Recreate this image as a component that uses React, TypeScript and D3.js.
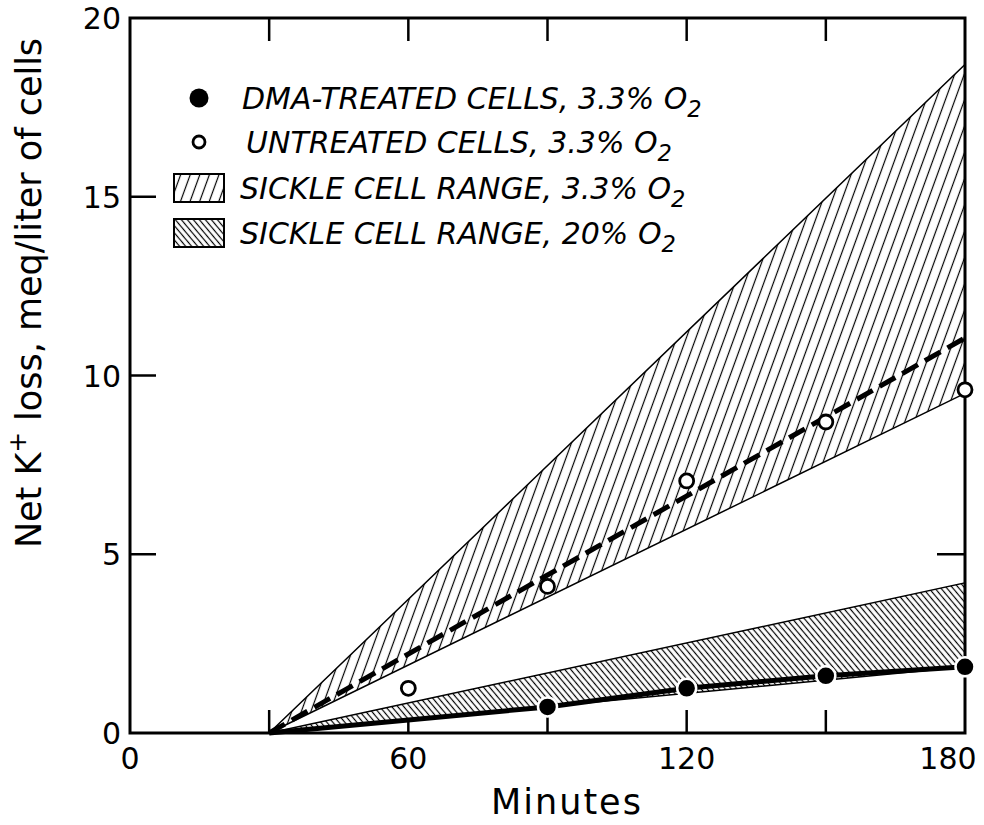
import React from "react"
import * as d3 from "d3"

// untreated cells, 3.3% O2 (open circles)
const untreatedMinutes = [60, 90, 120, 150, 180]
const untreatedLoss = [1.25, 4.1, 7.05, 8.7, 9.6]

// DMA-treated cells, 3.3% O2 (filled circles)
const dmaMinutes = [90, 120, 150, 180]
const dmaLoss = [0.73, 1.25, 1.6, 1.85]

// onset of loss and the dashed line through the untreated cells
const onsetMinute = 30
const untreatedFitMinutes = [30, 180]
const untreatedFitLoss = [0, 11.05]

// sickle cell ranges
const rangeMinutes = [30, 180]
const sickle33Low = [0, 9.5]
const sickle33High = [0, 18.7]
const sickle20Low = [0, 1.85]
const sickle20High = [0, 4.2]

const xTickLabels = [0, 60, 120, 180]
const xMinorTicks = [30, 60, 90, 120, 150]
const yTickLabels = [0, 5, 10, 15, 20]
const yMinorTicks = [5, 10, 15]

const width = 984
const height = 825
const font = "'DejaVu Sans', sans-serif"

const x = d3.scaleLinear().domain([0, 180]).range([130, 965])
const y = d3.scaleLinear().domain([0, 20]).range([733, 18])

const line = d3
  .line<[number, number]>()
  .x(d => x(d[0]))
  .y(d => y(d[1]))

const band = d3
  .area<number>()
  .x(d => x(rangeMinutes[d]))

const O2 = () => (
  <>
    {" O"}
    <tspan fontSize="0.75em" dy="8">2</tspan>
  </>
)

export default function App() {
  const band33 = band.y0(i => y(sickle33Low[i])).y1(i => y(sickle33High[i]))([0, 1])
  const band20 = band.y0(i => y(sickle20Low[i])).y1(i => y(sickle20High[i]))([0, 1])

  const fitPts = untreatedFitMinutes.map((m, i) => [m, untreatedFitLoss[i]] as [number, number])
  const dmaPts = [[onsetMinute, 0] as [number, number]].concat(
    dmaMinutes.map((m, i) => [m, dmaLoss[i]] as [number, number])
  )

  const legendRows = [98, 142, 188, 233]

  return (
    <svg
      width={width}
      height={height}
      style={{ position: "absolute", left: 0, top: 0, background: "white" }}
      fontFamily={font}
    >
      <defs>
        <pattern id="hatch33" width="9" height="9" patternUnits="userSpaceOnUse" patternTransform="rotate(20)">
          <rect width="9" height="9" fill="white" />
          <line x1="4.5" y1="0" x2="4.5" y2="9" stroke="black" strokeWidth="1.2" />
        </pattern>
        <pattern id="hatch20" width="4.6" height="4.6" patternUnits="userSpaceOnUse" patternTransform="rotate(-40)">
          <rect width="4.6" height="4.6" fill="white" />
          <line x1="2.3" y1="0" x2="2.3" y2="4.6" stroke="black" strokeWidth="1.2" />
        </pattern>
      </defs>

      {/* ticks */}
      <g stroke="black" strokeWidth={2.5}>
        {xMinorTicks.map(t => (
          <g key={t}>
            <line x1={x(t)} x2={x(t)} y1={y(20)} y2={y(20) + 23} />
            <line x1={x(t)} x2={x(t)} y1={y(0)} y2={y(0) - 23} />
          </g>
        ))}
        {yMinorTicks.map(t => (
          <g key={t}>
            <line x1={x(0)} x2={x(0) + 26} y1={y(t)} y2={y(t)} />
            <line x1={x(180)} x2={x(180) - 28} y1={y(t)} y2={y(t)} />
          </g>
        ))}
      </g>

      {/* sickle cell ranges */}
      <path d={band33 ?? ""} fill="url(#hatch33)" stroke="black" strokeWidth={1.5} />
      <path d={band20 ?? ""} fill="url(#hatch20)" stroke="black" strokeWidth={1.5} />

      {/* frame */}
      <rect
        x={x(0)}
        y={y(20)}
        width={x(180) - x(0)}
        height={y(0) - y(20)}
        fill="none"
        stroke="black"
        strokeWidth={3}
      />

      {/* lines */}
      <path d={line(fitPts) ?? ""} fill="none" stroke="black" strokeWidth={5} strokeDasharray="18 8" />
      <path d={line(dmaPts) ?? ""} fill="none" stroke="black" strokeWidth={5} />

      {/* points */}
      {untreatedMinutes.map((m, i) => (
        <circle key={m} cx={x(m)} cy={y(untreatedLoss[i])} r={7} fill="white" stroke="black" strokeWidth={2.8} />
      ))}
      {dmaMinutes.map((m, i) => (
        <circle key={m} cx={x(m)} cy={y(dmaLoss[i])} r={9.5} fill="black" stroke="white" strokeWidth={2.5} />
      ))}

      {/* tick labels */}
      <g fontSize={30} fill="black">
        {xTickLabels.map(t => (
          <text key={t} x={x(t) + (t === 180 ? -17 : 0)} y={769} textAnchor="middle">
            {t}
          </text>
        ))}
        {yTickLabels.map(t => (
          <text key={t} x={121} y={y(t) + 11} textAnchor="end">
            {t}
          </text>
        ))}
      </g>

      <text x={567} y={814} fontSize={35} letterSpacing={2} textAnchor="middle">
        Minutes
      </text>
      <text
        transform="translate(41,293) rotate(-90)"
        fontSize={35}
        textAnchor="middle"
      >
        Net K<tspan fontSize="0.7em" dy="-15">+</tspan>
        <tspan dy="15"> loss, meq/liter of cells</tspan>
      </text>

      {/* legend */}
      <g fontSize={30} fontStyle="italic">
        <circle cx={199} cy={legendRows[0]} r={9.5} fill="black" />
        <text x={242} y={legendRows[0] + 11}>
          DMA-TREATED CELLS, 3.3%<O2 />
        </text>
        <circle cx={199} cy={legendRows[1]} r={6} fill="white" stroke="black" strokeWidth={2.8} />
        <text x={246} y={legendRows[1] + 11}>
          UNTREATED CELLS, 3.3%<O2 />
        </text>
        <rect x={174} y={legendRows[2] - 14} width={50} height={28} fill="url(#hatch33)" stroke="black" strokeWidth={2} />
        <text x={240} y={legendRows[2] + 11}>
          SICKLE CELL RANGE, 3.3%<O2 />
        </text>
        <rect x={174} y={legendRows[3] - 14} width={50} height={28} fill="url(#hatch20)" stroke="black" strokeWidth={2} />
        <text x={240} y={legendRows[3] + 11}>
          SICKLE CELL RANGE, 20%<O2 />
        </text>
      </g>
    </svg>
  )
}
